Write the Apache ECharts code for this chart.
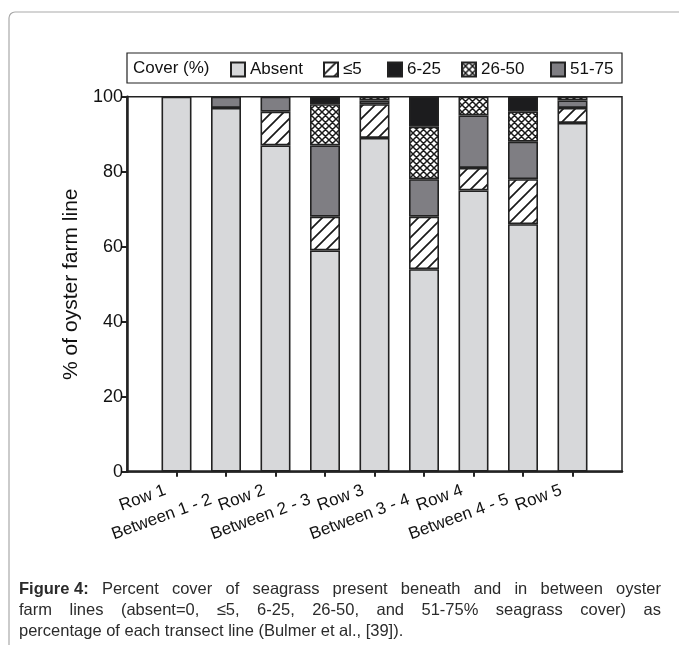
<!DOCTYPE html>
<html>
<head>
<meta charset="utf-8">
<script src="https://cdn.jsdelivr.net/npm/echarts@6/dist/echarts.min.js"></script>
<style>
html,body{margin:0;padding:0;background:#fff;}
#chart{width:679px;height:645px;}
</style>
</head>
<body>
<div id="chart"></div>
<script>
// ---- data ----
const categories = ['Row 1','Between 1 - 2','Row 2','Between 2 - 3','Row 3','Between 3 - 4','Row 4','Between 4 - 5','Row 5'];
const absent  = [100, 97, 87, 59, 89, 54, 75, 66, 93];
const le5     = [0, 0, 9, 9, 9, 14, 6, 12, 4];
const c51_75  = [0, 3, 4, 19, 1, 10, 14, 10, 2];
const c26_50  = [0, 0, 0, 11, 1, 14, 5, 8, 1];
const c6_25   = [0, 0, 0, 2, 0, 8, 0, 4, 0];
const yTicks  = [0, 20, 40, 60, 80, 100];
const legendNames = ['Absent', '≤5', '6-25', '26-50', '51-75'];
const captionLines = [
  'Percent cover of seagrass present beneath and in between oyster',
  'farm lines (absent=0, ≤5, 6-25, 26-50, and 51-75% seagrass cover) as',
  'percentage of each transect line (Bulmer et al., [39]).'
];

// ---- patterns ----
function hatchCanvas() {
  const n = 12;
  const c = document.createElement('canvas');
  c.width = n; c.height = n;
  const g = c.getContext('2d');
  g.fillStyle = '#fff'; g.fillRect(0,0,n,n);
  g.strokeStyle = '#1a1a1a'; g.lineWidth = 1.7;
  g.beginPath();
  for (let k = -1; k <= 1; k++) {
    g.moveTo(-2 + k * n, n + 2); g.lineTo(n + 2 + k * n, -2);
  }
  g.stroke();
  return c;
}
function crossCanvas() {
  const n = 7;
  const c = document.createElement('canvas');
  c.width = n; c.height = n;
  const g = c.getContext('2d');
  g.fillStyle = '#fff'; g.fillRect(0,0,n,n);
  g.strokeStyle = '#1a1a1a'; g.lineWidth = 1.5;
  g.beginPath();
  for (let k = -1; k <= 1; k++) {
    g.moveTo(-2 + k * n, n + 2); g.lineTo(n + 2 + k * n, -2);
    g.moveTo(-2 + k * n, -2); g.lineTo(n + 2 + k * n, n + 2);
  }
  g.stroke();
  return c;
}
const hatch = { image: hatchCanvas(), repeat: 'repeat' };
const cross = { image: crossCanvas(), repeat: 'repeat' };

const FONT = '"Liberation Sans", Arial, Helvetica, sans-serif';
const xData = [''].concat(categories).concat(['']);
const pad = arr => ['-'].concat(arr.map(v => v === 0 ? '-' : v)).concat(['-']);

const border = { borderColor: '#222', borderWidth: 1.6 };
function bar(name, data, color) {
  return {
    name: name, type: 'bar', stack: 'cover', barWidth: 30,
    data: pad(data),
    itemStyle: Object.assign({ color: color }, border),
    emphasis: { disabled: true },
    animation: false
  };
}

// ---- caption (justified) ----
const measure = document.createElement('canvas').getContext('2d');
const capLeft = 19, capRight = 661, capFont = 16.5;
const capCenters = [589, 610, 631];
const graphics = [];
graphics.push({ type: 'rect', shape: { x: 9, y: 12, width: 720, height: 720, r: 6 },
  style: { fill: 'none', stroke: '#a9a9a9', lineWidth: 1.2 }, silent: true });
graphics.push({ type: 'rect', shape: { x: 127, y: 53, width: 495, height: 30 },
  style: { fill: 'none', stroke: '#222', lineWidth: 1.2 }, silent: true });
graphics.push({ type: 'text', x: 133, y: 68,
  style: { text: 'Cover (%)', font: '17px ' + FONT, fill: '#111', verticalAlign: 'middle' }, silent: true });

captionLines.forEach(function(line, li) {
  const words = [];
  if (li === 0) words.push({ t: 'Figure 4:', bold: true });
  line.split(' ').forEach(w => words.push({ t: w, bold: false }));
  let total = 0;
  words.forEach(w => {
    measure.font = (w.bold ? 'bold ' : '') + capFont + 'px ' + FONT;
    w.w = measure.measureText(w.t).width; total += w.w;
  });
  measure.font = capFont + 'px ' + FONT;
  const justify = li < captionLines.length - 1;
  const space = justify ? (capRight - capLeft - total) / (words.length - 1) : measure.measureText(' ').width;
  let x = capLeft;
  words.forEach(w => {
    graphics.push({ type: 'text', x: x, y: capCenters[li],
      style: { text: w.t, font: (w.bold ? 'bold ' : '') + capFont + 'px ' + FONT,
        fill: '#2b2b2b', verticalAlign: 'middle' }, silent: true });
    x += w.w + space;
  });
});

const legendLefts = [230, 323, 387, 461, 550];
const legends = legendNames.map((n, i) => ({
  data: [n], left: legendLefts[i], top: 61, padding: 0, itemWidth: 14, itemHeight: 14,
  icon: 'rect',
  textStyle: { fontSize: 17, color: '#111', fontFamily: FONT },
  selectedMode: false
}));

const chart = echarts.init(document.getElementById('chart'), null, { renderer: 'canvas' });
chart.setOption({
  animation: false,
  backgroundColor: '#fff',
  textStyle: { fontFamily: FONT },
  grid: { left: 127, right: 57, top: 96.7, bottom: 173.3, show: true, borderColor: '#222', borderWidth: 1.5, backgroundColor: 'transparent' },
  legend: legends,
  xAxis: [{
    type: 'category', data: xData, boundaryGap: false,
    axisLine: { lineStyle: { color: '#222', width: 2.5 } },
    axisTick: { show: true, length: 5, lineStyle: { color: '#222', width: 2 }, interval: (i) => i > 0 && i < xData.length - 1 },
    axisLabel: { interval: 0, rotate: 20, fontSize: 17, color: '#111', margin: 14, padding: [0, 12, 0, 0],
      formatter: (v, i) => (i % 2 === 1 ? v : '') },
    splitLine: { show: false }
  }, {
    type: 'category', data: xData, boundaryGap: false, position: 'bottom', offset: 8,
    axisLine: { show: false }, axisTick: { show: false },
    axisLabel: { interval: 0, rotate: 20, fontSize: 17, color: '#111', margin: 14, padding: [0, 16, 0, 0],
      formatter: (v, i) => (i % 2 === 0 ? v : '') },
    splitLine: { show: false }
  }],
  yAxis: {
    type: 'value', min: yTicks[0], max: yTicks[yTicks.length - 1], interval: yTicks[1] - yTicks[0],
    name: '% of oyster farm line', nameLocation: 'middle', nameGap: 42,
    nameTextStyle: { fontSize: 21, color: '#111', fontFamily: FONT },
    axisLine: { show: true, lineStyle: { color: '#222', width: 2.5 } },
    axisTick: { show: true, length: 6, lineStyle: { color: '#222', width: 2 } },
    axisLabel: { fontSize: 18, color: '#111', margin: 4 },
    splitLine: { show: false }
  },
  series: [
    bar('Absent', absent, '#d7d8da'),
    bar('≤5', le5, hatch),
    bar('51-75', c51_75, '#7f7e83'),
    bar('26-50', c26_50, cross),
    bar('6-25', c6_25, '#1c1c1e')
  ],
  graphic: graphics
});
</script>
</body>
</html>
